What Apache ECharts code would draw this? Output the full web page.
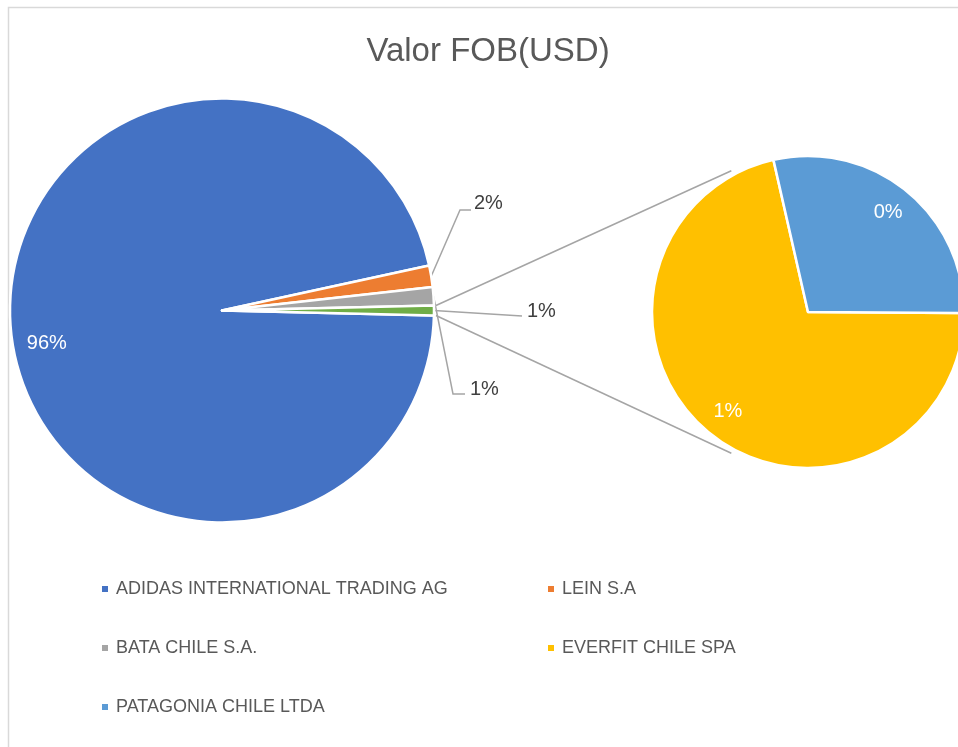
<!DOCTYPE html>
<html>
<head>
<meta charset="utf-8">
<script src="https://cdn.jsdelivr.net/npm/echarts@6/dist/echarts.min.js"></script>
<style>
  html, body { margin: 0; padding: 0; background: #fff; }
  #chart { width: 958px; height: 747px; }
</style>
</head>
<body>
<div id="chart"></div>
<script>
// 数据
const companies = ['ADIDAS INTERNATIONAL TRADING AG', 'LEIN S.A', 'BATA CHILE S.A.', 'EVERFIT CHILE SPA', 'PATAGONIA CHILE LTDA'];
const fobShare = [96.22, 1.64, 1.39, 0.535, 0.215]; // % del total FOB
const splitAt = 3; // los 3 primeros van en el pastel principal, el resto en el secundario
const otherName = 'Otros';

const sliceColors = ['#4472C4', '#ED7D31', '#A5A5A5', '#FFC000', '#5B9BD5'];
const otherColor = '#70AD47';
const textColor = '#595959';
const fontFamily = '"Liberation Sans", Arial, sans-serif';

// layout
const mainCenter = [222, 310.5];
const mainRadius = 212;
const secCenter = [808, 312];
const secRadius = 156;
const secStart = -0.4;

const total = fobShare.reduce((a, b) => a + b, 0);
const mainValues = fobShare.slice(0, splitAt);
const secValues = fobShare.slice(splitAt);
const otherValue = secValues.reduce((a, b) => a + b, 0);
const mainAll = mainValues.concat([otherValue]);
const mainStart = -otherValue / total * 180;

function midAngle(vals, i, start) {
  const sum = vals.reduce((a, b) => a + b, 0);
  let before = 0;
  for (let k = 0; k < i; k++) before += vals[k];
  return start - (before + vals[i] / 2) / sum * 360;
}

function polar(c, r, deg) {
  const a = deg * Math.PI / 180;
  return [c[0] + r * Math.cos(a), c[1] - r * Math.sin(a)];
}

const pct = v => Math.round(v / total * 100) + '%';

// 外部标签位置 (相对主饼图中心) 和引导线拐点
const outsideOffset = [[252, -107.5], [248, 78.5], [305, 0.5]];
const leaderElbow = [[-14, 7, -3], [-17, 5, -5], [-5, 5, -5]];

const mainData = mainAll.map((v, i) => {
  const isOther = i === splitAt;
  const inside = i === 0;
  return {
    name: isOther ? otherName : companies[i],
    value: v,
    itemStyle: { color: isOther ? otherColor : sliceColors[i] },
    label: {
      position: inside ? 'inside' : 'outside',
      color: inside ? '#fff' : '#404040'
    },
    labelLine: { show: !inside }
  };
});

const secData = secValues.map((v, i) => ({
  name: companies[splitAt + i],
  value: v,
  itemStyle: { color: sliceColors[splitAt + i] }
}));

// 连接线
const h = otherValue / total * 180;
const connA = polar(mainCenter, mainRadius + 2, h);
const connB = polar(mainCenter, mainRadius + 2, -h);
const connC = polar(secCenter, secRadius * 1.03, 118.5);
const connD = polar(secCenter, secRadius * 1.03, -118.5);

const legendBase = {
  orient: 'vertical',
  top: 574,
  itemWidth: 6,
  itemHeight: 6,
  itemGap: 39,
  icon: 'rect',
  selectedMode: false,
  itemStyle: { borderWidth: 0 },
  textStyle: { fontSize: 18, color: textColor, fontFamily, lineHeight: 20, padding: [0, 0, 0, 3] }
};

const chart = echarts.init(document.getElementById('chart'));

chart.setOption({
  backgroundColor: '#fff',
  animation: false,
  title: {
    text: 'Valor FOB(USD)',
    left: 483,
    top: 30,
    textAlign: 'center',
    textStyle: { fontSize: 33, fontWeight: 'normal', color: textColor, fontFamily }
  },
  legend: [
    Object.assign({}, legendBase, { data: [companies[0], companies[2], companies[4]], left: 97 }),
    Object.assign({}, legendBase, { data: [companies[1], companies[3]], left: 543 })
  ],
  graphic: [
    {
      type: 'rect', silent: true, z: -10,
      shape: { x: 8.5, y: 7.5, width: 1000, height: 800 },
      style: { fill: 'none', stroke: '#d9d9d9', lineWidth: 1.5 }
    },
    {
      type: 'line', silent: true, z: -5,
      shape: { x1: connA[0], y1: connA[1], x2: connC[0], y2: connC[1] },
      style: { stroke: '#a5a5a5', lineWidth: 1.5 }
    },
    {
      type: 'line', silent: true, z: -5,
      shape: { x1: connB[0], y1: connB[1], x2: connD[0], y2: connD[1] },
      style: { stroke: '#a5a5a5', lineWidth: 1.5 }
    }
  ],
  series: [
    {
      name: 'Valor FOB(USD)',
      type: 'pie',
      center: mainCenter,
      radius: mainRadius,
      startAngle: mainStart,
      clockwise: true,
      avoidLabelOverlap: false,
      itemStyle: { borderColor: '#fff', borderWidth: 2.5 },
      label: {
        formatter: p => pct(p.value),
        fontSize: 20,
        fontFamily
      },
      labelLine: { lineStyle: { color: '#a5a5a5', width: 1.5 } },
      emphasis: { disabled: true },
      labelLayout: function (p) {
        const i = p.dataIndex;
        const a = midAngle(mainAll, i, mainStart);
        if (i === 0) {
          const pt = polar(mainCenter, mainRadius * 0.83, a);
          return { x: pt[0], y: pt[1] + 16, align: 'center', verticalAlign: 'middle' };
        }
        const off = outsideOffset[i - 1];
        const el = leaderElbow[i - 1];
        const x = mainCenter[0] + off[0];
        const y = mainCenter[1] + off[1];
        const s = polar(mainCenter, mainRadius, a);
        return {
          x: x, y: y, align: 'left', verticalAlign: 'middle',
          labelLinePoints: [s, [x + el[0], y + el[1]], [x + el[2], y + el[1]]]
        };
      },
      data: mainData
    },
    {
      name: 'Otros',
      type: 'pie',
      center: secCenter,
      radius: secRadius,
      startAngle: secStart,
      clockwise: true,
      avoidLabelOverlap: false,
      itemStyle: { borderColor: '#fff', borderWidth: 2.5 },
      label: {
        position: 'inside',
        formatter: p => pct(p.value),
        fontSize: 20,
        color: '#fff',
        fontFamily
      },
      emphasis: { disabled: true },
      labelLayout: function (p) {
        const a = midAngle(secValues, p.dataIndex, secStart);
        const pt = polar(secCenter, secRadius * 0.82, a);
        return { x: pt[0], y: pt[1], align: 'center', verticalAlign: 'middle' };
      },
      data: secData
    }
  ]
});
</script>
</body>
</html>
